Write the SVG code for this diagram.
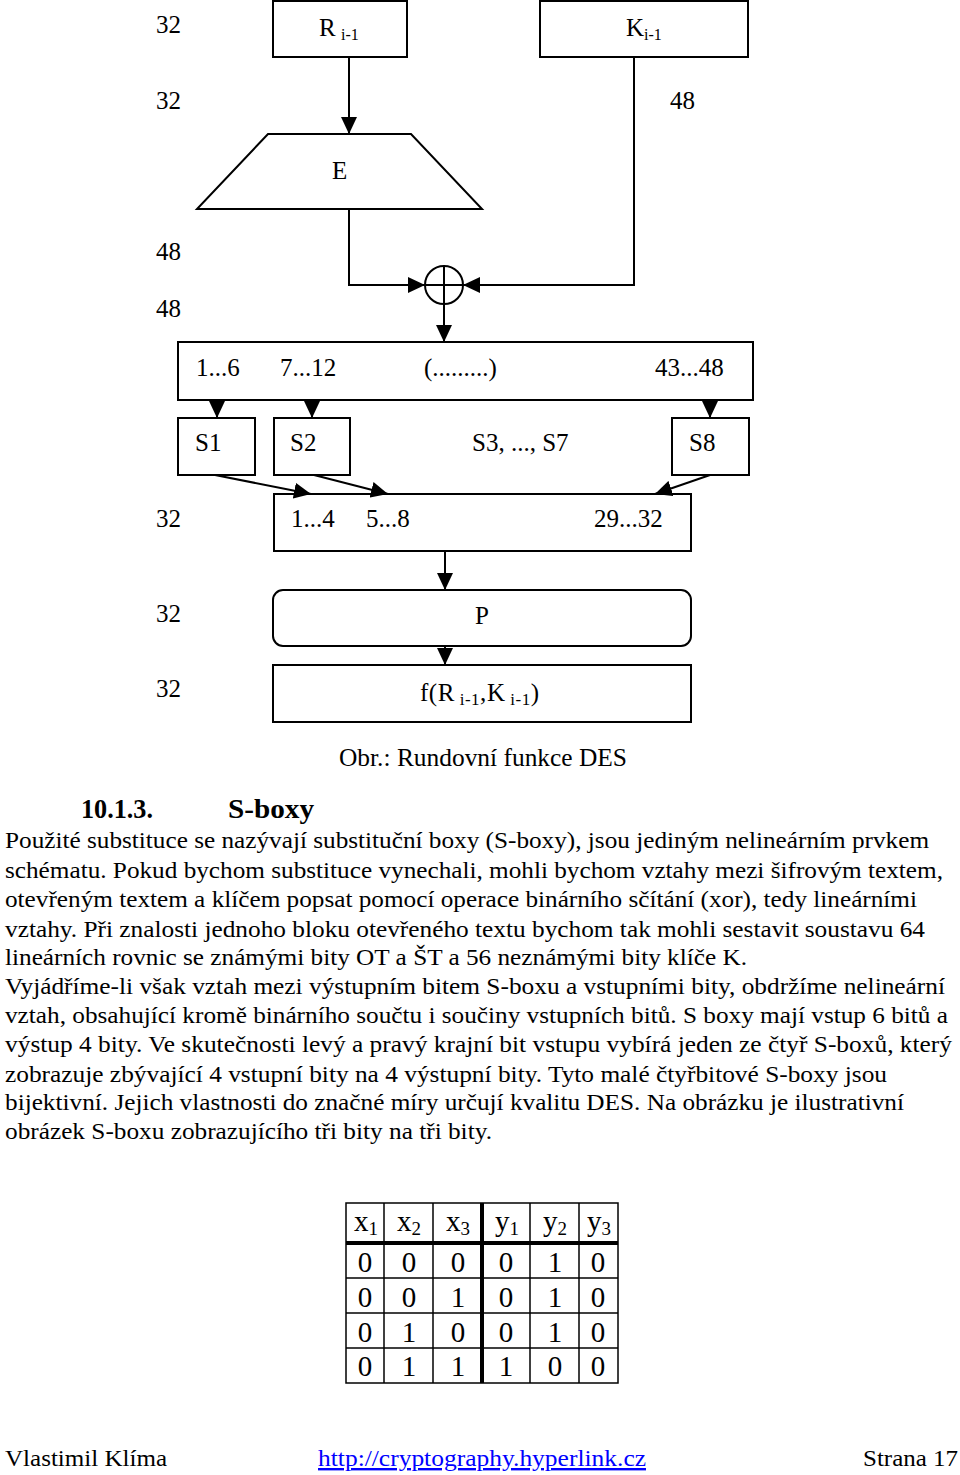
<svg xmlns="http://www.w3.org/2000/svg" width="960" height="1475" viewBox="0 0 960 1475">
<style>
text{font-family:"Liberation Serif","Times New Roman",serif;fill:#000}
.d{font-size:25px}
.s{font-size:16px}
.b{font-size:24px}
.box{fill:#fff;stroke:#000;stroke-width:2}
.ln{fill:none;stroke:#000;stroke-width:2}
.tb{fill:none;stroke:#000;stroke-width:1.5}
.tt{font-size:29px;text-anchor:middle}
</style>
<defs>
<marker id="ah" viewBox="0 0 17 16" markerWidth="17" markerHeight="16" refX="17" refY="8" orient="auto" markerUnits="userSpaceOnUse">
<path d="M0,0 L17,8 L0,16 z" fill="#000"/>
</marker>
</defs>

<g id="labels" class="d">
<text x="156" y="33">32</text>
<text x="156" y="109">32</text>
<text x="670" y="109">48</text>
<text x="156" y="260">48</text>
<text x="156" y="317">48</text>
<text x="156" y="527">32</text>
<text x="156" y="622">32</text>
<text x="156" y="697">32</text>
</g>

<g id="node-R">
<rect class="box" x="273" y="1" width="134" height="56"/>
<text class="d" x="319" y="36">R<tspan class="s" x="341" y="40">i-1</tspan></text>
</g>
<g id="node-K">
<rect class="box" x="540" y="1" width="208" height="56"/>
<text class="d" x="626" y="36">K<tspan class="s" x="644" y="40">i-1</tspan></text>
</g>
<g id="node-E">
<polygon class="box" points="268,134 411,134 482,209 197,209"/>
<text class="d" x="332" y="179">E</text>
</g>
<g id="node-xor">
<circle class="box" cx="444" cy="285" r="19"/>
<line class="ln" x1="425" y1="285" x2="463" y2="285"/>
<line class="ln" x1="444" y1="266" x2="444" y2="304"/>
</g>
<g id="node-in48">
<rect class="box" x="178" y="342" width="575" height="58"/>
<text class="d" x="196" y="376">1...6</text>
<text class="d" x="280" y="376">7...12</text>
<text class="d" x="424" y="376">(.........)</text>
<text class="d" x="655" y="376">43...48</text>
</g>
<g id="node-S1">
<rect class="box" x="178" y="418" width="77" height="57"/>
<text class="d" x="195" y="451">S1</text>
</g>
<g id="node-S2">
<rect class="box" x="274" y="418" width="76" height="57"/>
<text class="d" x="290" y="451">S2</text>
</g>
<g id="node-S37">
<text class="d" x="472" y="451">S3, ..., S7</text>
</g>
<g id="node-S8">
<rect class="box" x="672" y="418" width="77" height="57"/>
<text class="d" x="689" y="451">S8</text>
</g>
<g id="node-out32">
<rect class="box" x="274" y="494" width="417" height="57"/>
<text class="d" x="291" y="527">1...4</text>
<text class="d" x="366" y="527">5...8</text>
<text class="d" x="594" y="527">29...32</text>
</g>
<g id="node-P">
<rect class="box" x="273" y="590" width="418" height="56" rx="10"/>
<text class="d" x="482" y="624" text-anchor="middle">P</text>
</g>
<g id="node-f">
<rect class="box" x="273" y="665" width="418" height="57"/>
<text class="d" x="420" y="701" textLength="119" lengthAdjust="spacing">f(R<tspan font-size="17" dy="4"> i-1</tspan><tspan dy="-4">,K</tspan><tspan font-size="17" dy="4"> i-1</tspan><tspan dy="-4">)</tspan></text>
</g>

<g id="connectors">
<path class="ln" d="M349,57 V134" marker-end="url(#ah)"/>
<path class="ln" d="M634,57 V285 H463" marker-end="url(#ah)"/>
<path class="ln" d="M349,209 V285 H425" marker-end="url(#ah)"/>
<path class="ln" d="M444,304 V342" marker-end="url(#ah)"/>
<path class="ln" d="M217,400 V418" marker-end="url(#ah)"/>
<path class="ln" d="M312,400 V418" marker-end="url(#ah)"/>
<path class="ln" d="M710,400 V418" marker-end="url(#ah)"/>
<path class="ln" d="M215,475 L311,494" marker-end="url(#ah)"/>
<path class="ln" d="M314,475 L388,494" marker-end="url(#ah)"/>
<path class="ln" d="M710,475 L655,494" marker-end="url(#ah)"/>
<path class="ln" d="M445,551 V590" marker-end="url(#ah)"/>
<path class="ln" d="M445,646 V665" marker-end="url(#ah)"/>
</g>

<text class="d" x="339" y="766" textLength="288" lengthAdjust="spacingAndGlyphs">Obr.: Rundovní funkce DES</text>

<g id="body">
<text x="81" y="818" font-size="28" font-weight="bold" textLength="72" lengthAdjust="spacingAndGlyphs">10.1.3.</text>
<text x="228" y="818" font-size="28" font-weight="bold" textLength="86" lengthAdjust="spacingAndGlyphs">S-boxy</text>
<text class="b" x="5" y="848" textLength="924" lengthAdjust="spacingAndGlyphs">Použité substituce se nazývají substituční boxy (S-boxy), jsou jediným nelineárním prvkem</text>
<text class="b" x="5" y="878" textLength="938" lengthAdjust="spacingAndGlyphs">schématu. Pokud bychom substituce vynechali, mohli bychom vztahy mezi šifrovým textem,</text>
<text class="b" x="5" y="907" textLength="912" lengthAdjust="spacingAndGlyphs">otevřeným textem a klíčem popsat pomocí operace binárního sčítání (xor), tedy lineárními</text>
<text class="b" x="5" y="937" textLength="920" lengthAdjust="spacingAndGlyphs">vztahy. Při znalosti jednoho bloku otevřeného textu bychom tak mohli sestavit soustavu 64</text>
<text class="b" x="5" y="965" textLength="742" lengthAdjust="spacingAndGlyphs">lineárních rovnic se známými bity OT a ŠT a 56 neznámými bity klíče K.</text>
<text class="b" x="5" y="994" textLength="940" lengthAdjust="spacingAndGlyphs">Vyjádříme-li však vztah mezi výstupním bitem S-boxu a vstupními bity, obdržíme nelineární</text>
<text class="b" x="5" y="1023" textLength="943" lengthAdjust="spacingAndGlyphs">vztah, obsahující kromě binárního součtu i součiny vstupních bitů. S boxy mají vstup 6 bitů a</text>
<text class="b" x="5" y="1052" textLength="947" lengthAdjust="spacingAndGlyphs">výstup 4 bity. Ve skutečnosti levý a pravý krajní bit vstupu vybírá jeden ze čtyř S-boxů, který</text>
<text class="b" x="5" y="1082" textLength="882" lengthAdjust="spacingAndGlyphs">zobrazuje zbývající 4 vstupní bity na 4 výstupní bity. Tyto malé čtyřbitové S-boxy jsou</text>
<text class="b" x="5" y="1110" textLength="899" lengthAdjust="spacingAndGlyphs">bijektivní. Jejich vlastnosti do značné míry určují kvalitu DES. Na obrázku je ilustrativní</text>
<text class="b" x="5" y="1139" textLength="487" lengthAdjust="spacingAndGlyphs">obrázek S-boxu zobrazujícího tři bity na tři bity.</text>
</g>

<g id="table">
<rect class="tb" x="346" y="1203" width="272" height="180"/>
<line class="tb" x1="384" y1="1203" x2="384" y2="1383"/>
<line class="tb" x1="433" y1="1203" x2="433" y2="1383"/>
<line class="tb" x1="530" y1="1203" x2="530" y2="1383"/>
<line class="tb" x1="579" y1="1203" x2="579" y2="1383"/>
<line class="tb" x1="346" y1="1278" x2="618" y2="1278"/>
<line class="tb" x1="346" y1="1313" x2="618" y2="1313"/>
<line class="tb" x1="346" y1="1348" x2="618" y2="1348"/>
<line stroke="#000" stroke-width="4" x1="346" y1="1243" x2="618" y2="1243"/>
<line stroke="#000" stroke-width="4" x1="482" y1="1203" x2="482" y2="1383"/>
<text class="tt" x="366" y="1231">x<tspan font-size="19" dy="4">1</tspan></text>
<text class="tt" x="409" y="1231">x<tspan font-size="19" dy="4">2</tspan></text>
<text class="tt" x="458" y="1231">x<tspan font-size="19" dy="4">3</tspan></text>
<text class="tt" x="507" y="1231">y<tspan font-size="19" dy="4">1</tspan></text>
<text class="tt" x="555" y="1231">y<tspan font-size="19" dy="4">2</tspan></text>
<text class="tt" x="599" y="1231">y<tspan font-size="19" dy="4">3</tspan></text>
<g>
<text class="tt" x="365" y="1272">0</text><text class="tt" x="409" y="1272">0</text><text class="tt" x="458" y="1272">0</text><text class="tt" x="506" y="1272">0</text><text class="tt" x="555" y="1272">1</text><text class="tt" x="598" y="1272">0</text>
<text class="tt" x="365" y="1307">0</text><text class="tt" x="409" y="1307">0</text><text class="tt" x="458" y="1307">1</text><text class="tt" x="506" y="1307">0</text><text class="tt" x="555" y="1307">1</text><text class="tt" x="598" y="1307">0</text>
<text class="tt" x="365" y="1342">0</text><text class="tt" x="409" y="1342">1</text><text class="tt" x="458" y="1342">0</text><text class="tt" x="506" y="1342">0</text><text class="tt" x="555" y="1342">1</text><text class="tt" x="598" y="1342">0</text>
<text class="tt" x="365" y="1376">0</text><text class="tt" x="409" y="1376">1</text><text class="tt" x="458" y="1376">1</text><text class="tt" x="506" y="1376">1</text><text class="tt" x="555" y="1376">0</text><text class="tt" x="598" y="1376">0</text>
</g>
</g>

<g id="footer">
<text class="b" x="5" y="1466" textLength="162" lengthAdjust="spacingAndGlyphs">Vlastimil Klíma</text>
<text class="b" x="318" y="1466" textLength="328" lengthAdjust="spacingAndGlyphs" style="fill:#0000ff" text-decoration="underline">http://cryptography.hyperlink.cz</text>
<text class="b" x="863" y="1466" textLength="95" lengthAdjust="spacingAndGlyphs">Strana 17</text>
</g>
</svg>
